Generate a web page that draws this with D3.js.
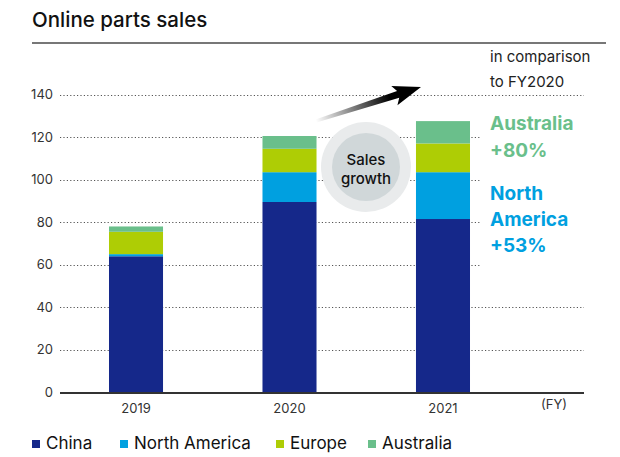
<!DOCTYPE html>
<html><head><meta charset="utf-8">
<script src="https://cdn.jsdelivr.net/npm/d3@7"></script>
<style>body{margin:0;background:#fff;}svg{display:block;font-family:Inter,"Liberation Sans",sans-serif;}</style>
</head><body><svg id="c" width="620" height="457"></svg>
<script>
const years = ["2019","2020","2021"];
const seriesNames = ["China","North America","Europe","Australia"];
const china = [64, 89.5, 81.5];
const northAmerica = [1, 14, 22];
const europe = [10.5, 11, 13.5];
const australia = [2.5, 6, 10.5];
const yTicks = [0,20,40,60,80,100,120,140];
const colors = ["#15288a","#00a0e0","#aecd05","#6abf8b"];

const svg = d3.select("#c");
const data = years.map((y,i)=>({year:y, "China":china[i], "North America":northAmerica[i], "Europe":europe[i], "Australia":australia[i]}));
const stack = d3.stack().keys(seriesNames)(data);

const x = d3.scaleBand().domain(years).range([62.95, 516.05]).paddingInner(0.648).paddingOuter(0.3);
const y = d3.scaleLinear().domain([0,140]).range([392.5, 94.5]);

// title
svg.append("text").attr("x",32).attr("y",27).attr("font-size",20.5).attr("font-weight",500).attr("fill","#111").text("Online parts sales");
svg.append("line").attr("x1",32).attr("x2",606).attr("y1",43).attr("y2",43).attr("stroke","#777").attr("stroke-width",2);

// grid
const grid = svg.append("g");
yTicks.filter(t=>t>0).forEach(t=>{
  const x2 = (t>=60 && t<=120) ? 480 : 584;
  grid.append("line").attr("x1",60).attr("x2",x2).attr("y1",Math.round(y(t))+0.5).attr("y2",Math.round(y(t))+0.5)
    .attr("stroke","#555").attr("stroke-width",1).attr("stroke-dasharray","1.2,2.2");
});
yTicks.forEach(t=>{
  svg.append("text").attr("x",53).attr("y",y(t)+4.5).attr("text-anchor","end").attr("font-size",13).attr("fill","#333").text(t);
});

// bars
svg.append("g").selectAll("g").data(stack).join("g").attr("fill",(d,i)=>colors[i])
  .selectAll("rect").data(d=>d).join("rect")
  .attr("x",d=>x(d.data.year)).attr("width",x.bandwidth())
  .attr("y",d=>y(d[1])).attr("height",d=>y(d[0])-y(d[1]));

// baseline
svg.append("line").attr("x1",60).attr("x2",584).attr("y1",393).attr("y2",393).attr("stroke","#333").attr("stroke-width",2);
years.forEach(yr=>{
  svg.append("text").attr("x",x(yr)+x.bandwidth()/2).attr("y",413).attr("text-anchor","middle").attr("font-size",13).attr("fill","#333").text(yr);
});
svg.append("text").attr("x",541).attr("y",409).attr("font-size",13).attr("fill","#333").text("(FY)");

// growth bubble
svg.append("circle").attr("cx",366).attr("cy",167).attr("r",45).attr("fill","#e9ebec");
svg.append("circle").attr("cx",366).attr("cy",167).attr("r",34).attr("fill","#d0d7d9");
svg.append("text").attr("x",366).attr("y",165).attr("text-anchor","middle").attr("font-size",15).attr("font-weight",500).attr("fill","#111").text("Sales");
svg.append("text").attr("x",366).attr("y",184).attr("text-anchor","middle").attr("font-size",15).attr("font-weight",500).attr("fill","#111").text("growth");

// arrow
const defs = svg.append("defs");
const g = defs.append("linearGradient").attr("id","ag").attr("gradientUnits","objectBoundingBox")
  .attr("x1",0).attr("y1",0.5).attr("x2",0.7).attr("y2",0.5);
g.append("stop").attr("offset",0).attr("stop-color","#000").attr("stop-opacity",0);
g.append("stop").attr("offset",1).attr("stop-color","#000").attr("stop-opacity",1);
const ang = Math.atan2(87-121, 421-316);
const L = Math.hypot(421-316, 87-121);
const arrow = svg.append("g").attr("transform",`translate(316,121) rotate(${ang*180/Math.PI})`);
arrow.append("path").attr("fill","url(#ag)")
  .attr("d",`M0,-1.5 L${L-24},-3.5 L${L-28},-10 L${L},0 L${L-28},10 L${L-24},3.5 L0,1.5 Z`);

// annotations
svg.append("text").attr("x",490).attr("y",62).attr("font-size",15).attr("fill","#222").text("in comparison");
svg.append("text").attr("x",490).attr("y",87).attr("font-size",15).attr("fill","#222").text("to FY2020");
const ann = [["Australia",130,"#6abf8b"],["+80%",157,"#6abf8b"],["North",200,"#00a0e0"],["America",226,"#00a0e0"],["+53%",252,"#00a0e0"]];
ann.forEach(a=>svg.append("text").attr("x",490).attr("y",a[1]).attr("font-size",19).attr("font-weight",700).attr("fill",a[2]).text(a[0]));

// legend
const legX = [32,120,276,368];
seriesNames.forEach((s,i)=>{
  svg.append("rect").attr("x",legX[i]).attr("y",440).attr("width",8).attr("height",8).attr("fill",colors[i]);
  svg.append("text").attr("x",legX[i]+14).attr("y",449).attr("font-size",17).attr("fill","#111").text(s);
});
</script></body></html>
